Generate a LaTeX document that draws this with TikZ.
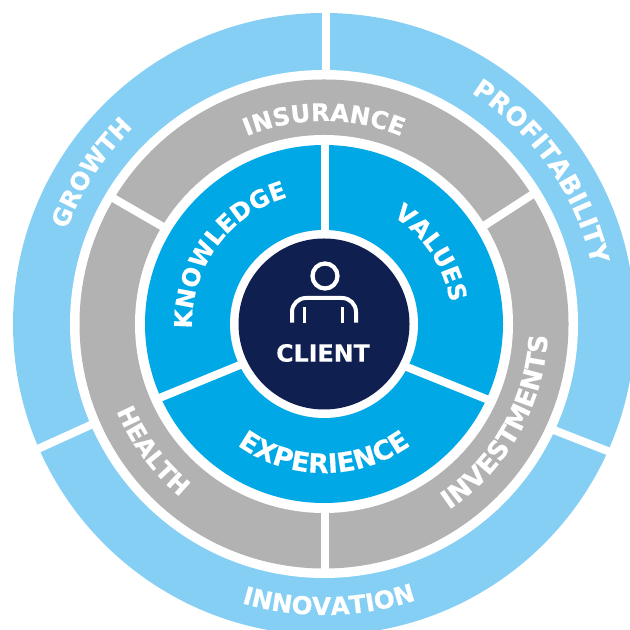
\documentclass[tikz,border=0pt]{standalone}
\usepackage{fontspec}
\setmainfont{DejaVu Sans}[BoldFeatures={FakeBold=0.35}]
\usetikzlibrary{decorations.text,calc}
\definecolor{ltblue}{HTML}{85CFF5}
\definecolor{midgray}{HTML}{B2B2B2}
\definecolor{brblue}{HTML}{00A8E6}
\definecolor{navy}{HTML}{0F1F50}
\newcommand{\arcf}[1]{\fontsize{#1}{20}\selectfont\bfseries\color{white}}
% \arclabel[font size]{text}{radius}{from angle}{to angle}
\newcommand{\arclabel}[5][18.2]{%
  \path[decorate,decoration={text along path,text align=center,text={|\arcf{#1}|#2}}]
    ($(c)+(#4:#3)$) arc[start angle=#4,end angle=#5,radius=#3];}
% \gapl{x1}{y1}{x2}{y2}: separator given in reference pixels, y from the top
\newcommand{\gapl}[4]{\draw[gap] (#1,630-#2) -- (#3,630-#4);}
\tikzset{gap/.style={white,line width=6pt,line cap=butt},
  iconline/.style={white,line width=3pt,line cap=butt}}
\begin{document}
\begin{tikzpicture}[x=0.75pt,y=0.75pt]
\useasboundingbox (0,0) rectangle (630,630);
\coordinate (c) at (324,306);
\begin{scope}
\clip (0,0) rectangle (630,630);
\fill[ltblue] (c) circle[radius=311];
\gapl{326}{-5}{326}{100}
\gapl{100}{420.8}{20}{457}
\gapl{540}{424.6}{640}{463.7}
\fill[white] (c) circle[radius=254];
\fill[midgray] (c) circle[radius=244.5];
\gapl{325}{500}{325}{572}
\gapl{534}{193.4}{470}{234.9}
\gapl{111.3}{197}{180}{236.7}
\fill[white] (c) circle[radius=189];
\fill[brblue] (c) circle[radius=179];
\gapl{325}{140}{325}{240}
\gapl{156.3}{399.3}{250}{360.9}
\gapl{395}{362.2}{490.4}{400.7}
\fill[white] (c) circle[radius=94];
\fill[navy] (c) circle[radius=85.5];
\end{scope}
% person icon
\draw[iconline,line width=3.2pt] (325,354) circle[radius=12.5];
\draw[iconline] (292,307.3) -- (292,318) arc[start angle=180,end angle=90,radius=14] -- (342,332) arc[start angle=90,end angle=0,radius=14] -- (356,307.3);
\draw[iconline,line width=2.5pt] (304.7,307.3) -- (304.7,323);
\draw[iconline,line width=2.5pt] (342.3,307.3) -- (342.3,323);
\node[white,font=\arcf{17.8},inner sep=0pt] (client) at (323,277) {CLIENT};
% labels
\arclabel{GROWTH}{274}{187}{107}
\arclabel[19.2]{PROFITABILITY}{274}{75.5}{-5.5}
\arclabel{INSURANCE}{203}{130}{50}
\arclabel[19.5]{INVESTMENTS}{224}{-69.5}{10.5}
\arclabel{HEALTH}{225}{176.5}{256.5}
\arclabel{KNOWLEDGE}{132}{194}{94}
\arclabel{VALUES}{128}{83.5}{-16.5}
\arclabel[20]{EXPERIENCE}{149}{-140}{-40}
\arclabel[18.5]{INNOVATION}{291}{-124}{-54}
\end{tikzpicture}
\end{document}
